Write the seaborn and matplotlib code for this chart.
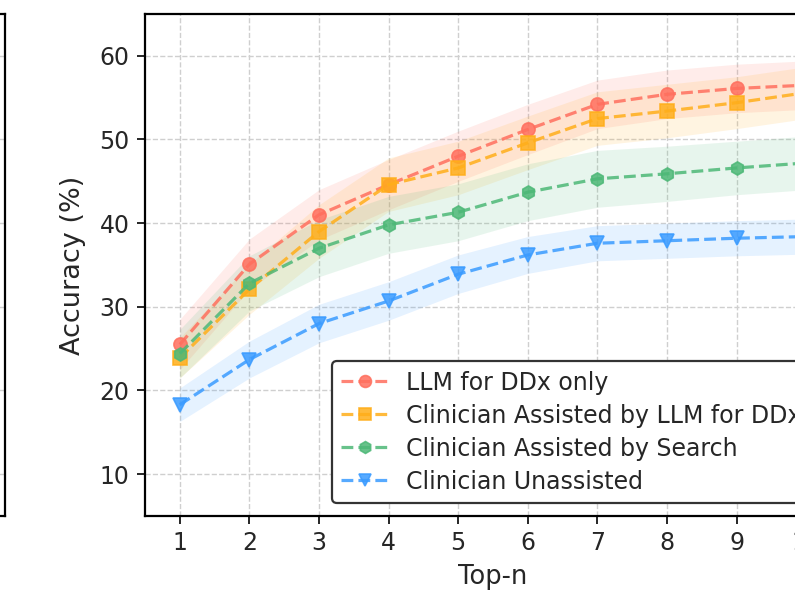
import numpy as np
import pandas as pd
import matplotlib
matplotlib.use("Agg")
import matplotlib.pyplot as plt
import seaborn as sns

# Top-n accuracy for differential diagnosis, with confidence-band half-widths
top_n = [1, 2, 3, 4, 5, 6, 7, 8, 9, 10]

llm_only = [25.5, 35.1, 41.0, 44.6, 48.0, 51.2, 54.2, 55.4, 56.1, 56.5]
assisted_llm = [23.9, 32.1, 39.0, 44.6, 46.6, 49.6, 52.5, 53.4, 54.4, 55.6]
assisted_search = [24.4, 32.8, 37.0, 39.8, 41.3, 43.7, 45.3, 45.9, 46.6, 47.2]
unassisted = [18.3, 23.7, 28.0, 30.7, 33.9, 36.2, 37.6, 37.9, 38.2, 38.4]

llm_only_ci = [3.0, 3.0, 3.0, 3.0, 3.0, 3.0, 2.9, 2.9, 2.9, 2.9]
assisted_llm_ci = [2.4, 3.0, 3.2, 3.2, 3.2, 3.2, 3.2, 3.2, 3.1, 3.1]
assisted_search_ci = [2.9, 3.3, 3.4, 3.4, 3.4, 3.4, 3.4, 3.3, 3.2, 3.2]
unassisted_ci = [2.0, 2.2, 2.3, 2.3, 2.3, 2.2, 2.1, 2.1, 2.1, 2.1]

labels = [
    "LLM for DDx only",
    "Clinician Assisted by LLM for DDx",
    "Clinician Assisted by Search",
    "Clinician Unassisted",
]
series = [llm_only, assisted_llm, assisted_search, unassisted]
bands = [llm_only_ci, assisted_llm_ci, assisted_search_ci, unassisted_ci]
colors = ["#FF6F5E", "#FFAE1A", "#4DB877", "#3A9BFF"]
markers = ["o", "s", "h", "v"]

sns.set_theme(style="ticks")
plt.rcParams["font.family"] = ["DejaVu Sans"]
plt.rcParams["text.color"] = "#262626"
plt.rcParams["axes.labelcolor"] = "#262626"
plt.rcParams["xtick.color"] = "#262626"
plt.rcParams["ytick.color"] = "#262626"

W, H = 795, 590
fig = plt.figure(figsize=(W / 100, H / 100), dpi=100)

def style_axes(a):
    a.set_xlim(0.5, 10.5)
    a.set_ylim(5, 65)
    a.set_xticks(top_n)
    a.set_yticks([10, 20, 30, 40, 50, 60])
    a.grid(True, linestyle="--", color="#cfcfcf", linewidth=1.0)
    a.set_axisbelow(True)
    for s in a.spines.values():
        s.set_color("black")
        s.set_linewidth(1.6)
    a.tick_params(axis="both", labelsize=17, length=6, width=1.4, pad=5,
                  colors="#262626")

# neighbouring panel on the left
ax_left = fig.add_axes([-0.8705, 1 - 516 / H, 0.8768, 502 / H])
style_axes(ax_left)
ax_left.tick_params(labelleft=False, labelbottom=False)

# main panel
ax = fig.add_axes([145 / W, 1 - 516 / H, 696 / W, 502 / H])
style_axes(ax)

for vals, ci, lab, col, mk in zip(series, bands, labels, colors, markers):
    df = pd.DataFrame({"Top-n": top_n, "Accuracy": vals})
    lo = np.array(vals) - np.array(ci)
    hi = np.array(vals) + np.array(ci)
    ax.fill_between(top_n, lo, hi, color=col, alpha=0.13, linewidth=0, zorder=1)
    sns.lineplot(
        data=df, x="Top-n", y="Accuracy", ax=ax, color=col, label=lab,
        linestyle="--", linewidth=2.3, marker=mk, markersize=9.5,
        markerfacecolor=col, markeredgecolor=col, markeredgewidth=1.2,
        alpha=0.85, zorder=3,
    )

ax.set_xlabel("Top-n", fontsize=18.5, labelpad=6)
ax.set_ylabel("Accuracy (%)", fontsize=19.5, labelpad=10)

leg = ax.legend(
    loc="lower left",
    bbox_to_anchor=(332 / W, 1 - 503 / H),
    bbox_transform=fig.transFigure,
    borderaxespad=0,
    fontsize=17,
    frameon=True,
    fancybox=True,
    framealpha=1.0,
    labelspacing=0.38,
    handlelength=2.0,
    handletextpad=0.75,
    markerscale=0.9,
)
leg.get_frame().set_edgecolor("#333333")
leg.get_frame().set_linewidth(1.6)

fig.savefig("out.png", dpi=100)
